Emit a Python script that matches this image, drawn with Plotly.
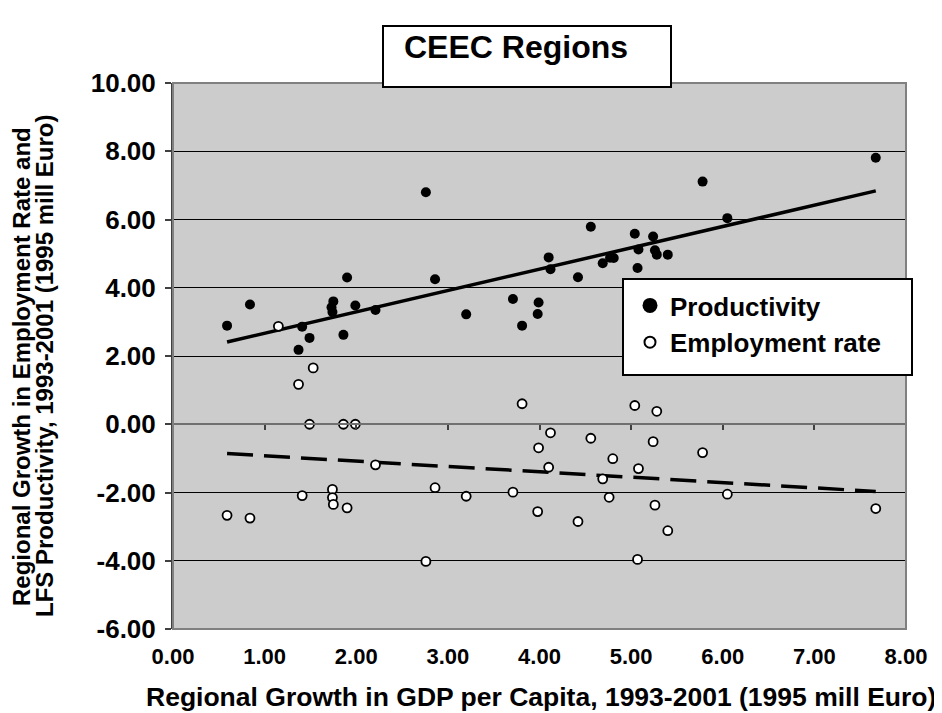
import plotly.graph_objects as go

# ---------------- data ----------------
prod_x = [0.59, 0.84, 1.41, 1.49, 1.37, 1.75, 1.73, 1.74, 1.90, 1.99, 1.86, 2.21,
          2.76, 2.86, 3.20, 3.71, 3.81, 3.99, 3.98, 4.10, 4.12, 4.42, 4.56, 4.69,
          4.77, 4.81, 5.04, 5.08, 5.07, 5.24, 5.26, 5.28, 5.40, 5.78, 6.05, 7.67]
prod_y = [2.89, 3.51, 2.86, 2.53, 2.18, 3.60, 3.43, 3.29, 4.30, 3.48, 2.62, 3.35,
          6.80, 4.25, 3.22, 3.67, 2.89, 3.57, 3.23, 4.89, 4.54, 4.31, 5.79, 4.72,
          4.88, 4.87, 5.58, 5.12, 4.58, 5.50, 5.10, 4.97, 4.97, 7.11, 6.04, 7.81]

emp_x = [1.15, 1.53, 1.37, 1.49, 1.86, 1.99, 2.21, 1.41, 1.74, 1.74, 1.75, 1.90,
         0.59, 0.84, 2.76, 2.86, 3.20, 3.71, 3.81, 3.99, 3.98, 4.12, 4.10, 4.42,
         4.56, 4.69, 4.80, 4.76, 5.04, 5.08, 5.07, 5.28, 5.24, 5.26, 5.40, 5.78,
         6.05, 7.67]
emp_y = [2.87, 1.65, 1.17, 0.00, 0.00, 0.00, -1.19, -2.09, -1.91, -2.15, -2.35, -2.45,
         -2.67, -2.75, -4.02, -1.86, -2.11, -1.99, 0.60, -0.69, -2.56, -0.25, -1.26, -2.85,
         -0.41, -1.60, -1.01, -2.14, 0.55, -1.30, -3.96, 0.38, -0.51, -2.37, -3.12, -0.83,
         -2.05, -2.47]

trend_x = [0.59, 7.67]
prod_trend_y = [2.41, 6.84]
emp_trend_y = [-0.86, -1.97]

x_tick_vals = [0, 1, 2, 3, 4, 5, 6, 7, 8]
x_tick_text = ["0.00", "1.00", "2.00", "3.00", "4.00", "5.00", "6.00", "7.00", "8.00"]
y_tick_vals = [-6, -4, -2, 0, 2, 4, 6, 8, 10]
y_tick_text = ["-6.00", "-4.00", "-2.00", "0.00", "2.00", "4.00", "6.00", "8.00", "10.00"]

title_text = "CEEC Regions"
x_title = "Regional Growth in GDP per Capita, 1993-2001 (1995 mill Euro)"
y_title_1 = "Regional Growth in Employment Rate and"
y_title_2 = "LFS Productivity, 1993-2001 (1995 mill Euro)"
series_names = ["Productivity", "Employment rate"]

# ---------------- figure ----------------
FONT = "Liberation Sans, Arial, Helvetica, sans-serif"
OFF = 8                      # page body margin
W, H = 942 - OFF, 713 - OFF
L, R, T, B = 165, 36, 75, 84
PW, PH = W - L - R, H - T - B


def px_x(p):
    """page pixel x -> paper fraction"""
    return (p - OFF - L) / PW


def px_y(p):
    """page pixel y -> paper fraction"""
    return (H - B - (p - OFF)) / PH


fig = go.Figure()

fig.add_trace(go.Scatter(x=trend_x, y=prod_trend_y, mode="lines",
                         line=dict(color="black", width=3.5), showlegend=False,
                         hoverinfo="skip"))
fig.add_trace(go.Scatter(x=trend_x, y=emp_trend_y, mode="lines",
                         line=dict(color="black", width=3.5, dash="26px,11px"),
                         showlegend=False, hoverinfo="skip"))
fig.add_trace(go.Scatter(x=prod_x, y=prod_y, mode="markers",
                         marker=dict(color="black", size=10, line=dict(width=0)),
                         showlegend=False, name=series_names[0]))
fig.add_trace(go.Scatter(x=emp_x, y=emp_y, mode="markers",
                         marker=dict(color="white", size=9,
                                     line=dict(color="black", width=1.8)),
                         showlegend=False, name=series_names[1]))

# legend entries (drawn on the zero-line axis so that axis is rendered)
fig.add_trace(go.Scatter(x=[None], y=[None], mode="markers", xaxis="x2",
                         marker=dict(color="black", size=15, line=dict(width=0)),
                         name=series_names[0]))
fig.add_trace(go.Scatter(x=[None], y=[None], mode="markers", xaxis="x2",
                         marker=dict(color="white", size=11,
                                     line=dict(color="black", width=2)),
                         name=series_names[1]))

fig.update_layout(
    width=W, height=H, autosize=False,
    margin=dict(l=L, r=R, t=T, b=B, pad=0),
    paper_bgcolor="white", plot_bgcolor="#cccccc",
    font=dict(family=FONT, color="black"),
    xaxis=dict(range=[0, 8], tickvals=x_tick_vals, ticktext=x_tick_text,
               showgrid=False, zeroline=False, showline=False, ticks="",
               tickfont=dict(size=22, weight="bold", family=FONT),
               ticklabelstandoff=12, fixedrange=True),
    xaxis2=dict(range=[0, 8], overlaying="x", anchor="free", position=0.375,
                tickvals=x_tick_vals, showticklabels=False, ticks="outside",
                ticklen=5, tickwidth=1.5, tickcolor="#404040", showline=True,
                linecolor="#707070", linewidth=2, showgrid=False, zeroline=False),
    yaxis=dict(range=[-6, 10], tickvals=y_tick_vals, ticktext=y_tick_text,
               showgrid=True, gridcolor="black", gridwidth=1, zeroline=False,
               showline=True, linecolor="#404040", linewidth=2,
               ticks="outside", ticklen=6, tickwidth=1.5, tickcolor="#404040",
               tickfont=dict(size=26, weight="bold", family=FONT),
               ticklabelstandoff=4, fixedrange=True),
    legend=dict(x=px_x(630), y=px_y(282), xanchor="left", yanchor="top",
                bgcolor="rgba(0,0,0,0)", borderwidth=0,
                font=dict(size=26, weight="bold", family=FONT),
                tracegroupgap=0),
    showlegend=True,
)

shapes = [
    # plot-area border
    dict(type="rect", xref="paper", yref="paper", x0=0, x1=1, y0=0, y1=1,
         line=dict(color="#808080", width=2), layer="above"),
    # title box
    dict(type="rect", xref="paper", yref="paper",
         x0=px_x(383), x1=px_x(671), y0=px_y(87), y1=px_y(26),
         line=dict(color="black", width=2), fillcolor="white", layer="above"),
    # legend box
    dict(type="rect", xref="paper", yref="paper",
         x0=px_x(623), x1=px_x(912), y0=px_y(375), y1=px_y(279),
         line=dict(color="black", width=2), fillcolor="white", layer="above"),
]
fig.update_layout(shapes=shapes)

annotations = [
    dict(text=title_text, xref="paper", yref="paper", x=px_x(402), y=px_y(47),
         xanchor="left", yanchor="middle", showarrow=False,
         font=dict(size=32, weight="bold", family=FONT)),
    dict(text=x_title, xref="paper", yref="paper", x=px_x(541), y=px_y(697),
         xanchor="center", yanchor="middle", showarrow=False,
         font=dict(size=26.5, weight="bold", family=FONT)),
    dict(text=y_title_1, xref="paper", yref="paper", x=px_x(22), y=px_y(367),
         xanchor="center", yanchor="middle", showarrow=False, textangle=-90,
         font=dict(size=24, weight="bold", family=FONT)),
    dict(text=y_title_2, xref="paper", yref="paper", x=px_x(45), y=px_y(366),
         xanchor="center", yanchor="middle", showarrow=False, textangle=-90,
         font=dict(size=24, weight="bold", family=FONT)),
]
fig.update_layout(annotations=annotations)

fig.write_html("out.html")
